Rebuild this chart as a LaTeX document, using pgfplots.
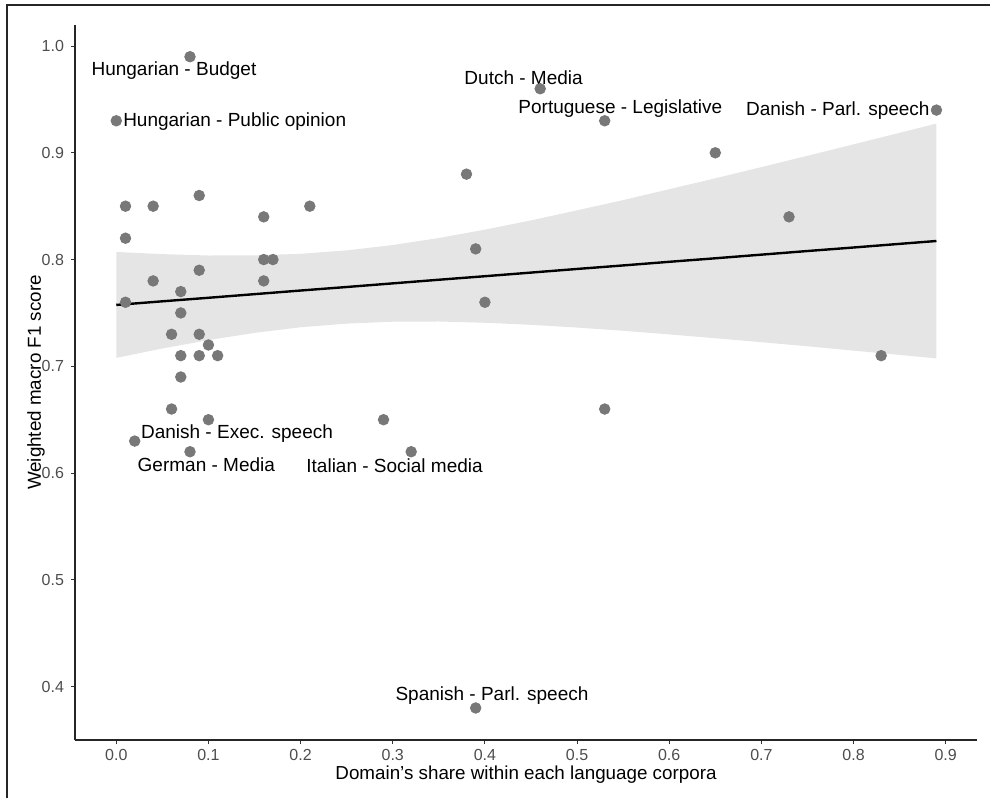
\documentclass[border=0pt]{standalone}
\usepackage{pgfplots}
\pgfplotsset{compat=1.18}
\usepgfplotslibrary{fillbetween}
\usepackage{fontspec}
\setmainfont{Liberation Sans}
\definecolor{ptcol}{RGB}{120,120,120}
\definecolor{bandcol}{RGB}{229,229,229}
\definecolor{tickcol}{RGB}{77,77,77}
\pgfplotstableread{
x lo fit hi
0.00 0.7079 0.7575 0.8071
0.05 0.7167 0.7609 0.8051
0.10 0.7246 0.7642 0.8038
0.15 0.7313 0.7676 0.8039
0.20 0.7366 0.7710 0.8054
0.25 0.7400 0.7743 0.8086
0.30 0.7418 0.7777 0.8136
0.35 0.7420 0.7811 0.8202
0.40 0.7408 0.7844 0.8280
0.45 0.7389 0.7878 0.8367
0.50 0.7363 0.7912 0.8461
0.55 0.7333 0.7945 0.8557
0.60 0.7299 0.7979 0.8659
0.65 0.7263 0.8012 0.8761
0.70 0.7226 0.8046 0.8866
0.75 0.7188 0.8080 0.8972
0.80 0.7147 0.8113 0.9079
0.85 0.7107 0.8147 0.9187
0.89 0.7074 0.8174 0.9274
}\bandtable
\pgfplotstableread{
x y
0.08 0.99
0.00 0.93
0.46 0.96
0.53 0.93
0.89 0.94
0.65 0.90
0.38 0.88
0.01 0.85
0.04 0.85
0.09 0.86
0.16 0.84
0.21 0.85
0.73 0.84
0.01 0.82
0.39 0.81
0.16 0.80
0.17 0.80
0.09 0.79
0.04 0.78
0.16 0.78
0.07 0.77
0.01 0.76
0.40 0.76
0.07 0.75
0.06 0.73
0.09 0.73
0.10 0.72
0.07 0.71
0.09 0.71
0.11 0.71
0.83 0.71
0.07 0.69
0.06 0.66
0.53 0.66
0.10 0.65
0.29 0.65
0.02 0.63
0.08 0.62
0.32 0.62
0.39 0.38
}\pointtable
\begin{document}
\begin{tikzpicture}
\begin{axis}[
  at={(0,0)}, anchor=south west,
  width=451pt, height=357.5pt, scale only axis,
  xmin=-0.0448, xmax=0.934, ymin=0.350, ymax=1.0197,
  axis x line*=bottom, axis y line*=left,
  axis line style={line width=0.6pt, black!85},
  xtick={0,0.1,0.2,0.3,0.4,0.5,0.6,0.7,0.8,0.9},
  ytick={0.4,0.5,0.6,0.7,0.8,0.9,1.0},
  tick align=outside, major tick length=2pt,
  tick style={line width=0.5pt, black!80},
  ticklabel style={font=\fontsize{8}{9.5}\selectfont, text=tickcol,
    /pgf/number format/fixed, /pgf/number format/fixed zerofill,
    /pgf/number format/precision=1, /pgf/number format/assume math mode=true},
  xticklabel style={yshift=1pt},
  xlabel={Domain's share within each language corpora},
  ylabel={Weighted macro F1 score},
  label style={font=\fontsize{9.4}{11}\selectfont},
  xlabel style={at={(axis description cs:0.5,-0.049)}, anchor=center},
  ylabel style={at={(axis description cs:-0.0432,0.5)}, anchor=center},
  clip=false,
]
\addplot[name path=U, draw=none, forget plot] table[x=x, y=hi] {\bandtable};
\addplot[name path=L, draw=none, forget plot] table[x=x, y=lo] {\bandtable};
\addplot[fill=bandcol, draw=none] fill between[of=U and L];
\addplot[only marks, mark=*, mark size=2.65pt, mark options={fill=ptcol, draw=ptcol}] table[x=x, y=y] {\pointtable};
\addplot[black, line width=1.2pt] table[x=x, y=fit] {\bandtable};
\begin{scope}[every node/.style={font=\fontsize{9.5}{11}\selectfont, inner sep=0pt, anchor=center}]
\node at (axis cs:0.0626,0.9766) {Hungarian - Budget};
\node at (axis cs:0.1285,0.9295) {Hungarian - Public opinion};
\node at (axis cs:0.442,0.9707) {Dutch - Media};
\node at (axis cs:0.547,0.941) {Portuguese - Legislative};
\node at (axis cs:0.783,0.9394) {Danish - Parl. speech};
\node at (axis cs:0.131,0.6373) {Danish - Exec. speech};
\node at (axis cs:0.0977,0.6077) {German - Media};
\node at (axis cs:0.302,0.6067) {Italian - Social media};
\node at (axis cs:0.4077,0.3917) {Spanish - Parl. speech};
\end{scope}
\end{axis}
\pgfresetboundingbox
\useasboundingbox (-37.5pt,-29pt) rectangle (457.5pt,370pt);
\draw[line width=0.9pt,black!85] (-34pt,-29pt) -- (-34pt,367.5pt) -- (457.5pt,367.5pt);
\end{tikzpicture}
\end{document}
